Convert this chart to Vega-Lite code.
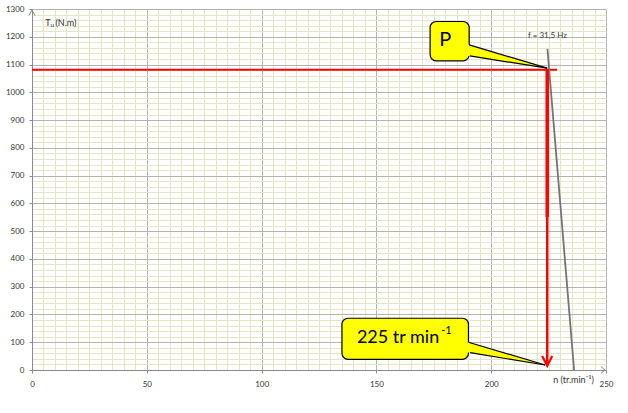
{
  "$schema": "https://vega.github.io/schema/vega-lite/v6.json",
  "width": 574,
  "height": 361,
  "autosize": "none",
  "padding": {"left": 32, "top": 9, "right": 22, "bottom": 43},
  "background": "white",
  "config": {
    "view": {"stroke": null},
    "font": "Lato",
    "axis": {
      "labelFont": "Lato",
      "labelFontSize": 8,
      "labelColor": "#333333",
      "domainColor": "#8a8a8a",
      "tickColor": "#8a8a8a",
      "tickSize": 3,
      "labelOverlap": false,
      "labelBound": false,
      "labelFlush": false,
      "format": "d",
      "title": null
    }
  },
  "datasets": {
    "redH": [{"n": 0, "t": 1081}, {"n": 228.7, "t": 1081}],
    "redV1": [{"n": 224.4, "t": 1081}, {"n": 224.4, "t": 551}],
    "redV2": [{"n": 224.4, "t": 551}, {"n": 224.4, "t": 16}],
    "arrowHead": [{"n": 222.2, "t": 50, "o": 1}, {"n": 224.4, "t": 15, "o": 2}, {"n": 226.6, "t": 50, "o": 3}],
    "grayLine": [{"n": 224.5, "t": 1156}, {"n": 236.1, "t": 0}],
    "axisArrows": [
      {"a": "y", "n": -1.3, "t": 1276, "o": 1}, {"a": "y", "n": 0, "t": 1297, "o": 2}, {"a": "y", "n": 1.3, "t": 1276, "o": 3},
      {"a": "x", "n": 247.8, "t": 12, "o": 1}, {"a": "x", "n": 249.6, "t": 0, "o": 2}, {"a": "x", "n": 247.8, "t": -12, "o": 3}
    ],
    "boxes": [
      {"c": "P", "x1": 173.4, "x2": 190.4, "y1": 1113.5, "y2": 1255},
      {"c": "225", "x1": 135, "x2": 190.1, "y1": 38.6, "y2": 186.3}
    ],
    "pointerFill": [
      {"c": "P", "n": 189.6, "top": 1173, "bot": 1132},
      {"c": "P", "n": 224.4, "top": 1087, "bot": 1087},
      {"c": "225", "n": 189.3, "top": 101.8, "bot": 64.3},
      {"c": "225", "n": 223.5, "top": 18, "bot": 18}
    ],
    "pointerEdges": [
      {"s": "Pt", "n": 190.4, "t": 1171}, {"s": "Pt", "n": 224.4, "t": 1087},
      {"s": "Pb", "n": 190.7, "t": 1131}, {"s": "Pb", "n": 224.4, "t": 1087},
      {"s": "Ct", "n": 190.1, "t": 99.8}, {"s": "Ct", "n": 223.5, "t": 18},
      {"s": "Cb", "n": 190.8, "t": 62.3}, {"s": "Cb", "n": 223.5, "t": 18}
    ],
    "texts": [
      {"k": "big", "label": "P", "n": 180, "t": 1189},
      {"k": "mid", "label": "225 tr min", "n": 141.5, "t": 97},
      {"k": "sup", "label": "-1", "n": 178.2, "t": 130},
      {"k": "small", "label": "f = 31,5 Hz", "n": 224.5, "t": 1204},
      {"k": "axt", "label": "T", "n": 5.8, "t": 1251},
      {"k": "sub", "label": "u", "n": 8.1, "t": 1241},
      {"k": "axt", "label": "(N.m)", "n": 10.2, "t": 1251},
      {"k": "axt", "label": "n (tr.min⁻¹)", "n": 227, "t": -36}
    ]
  },
  "layer": [
    {
      "data": {"name": "redH"},
      "mark": {"type": "line", "color": "#ff0000", "strokeWidth": 2, "clip": false},
      "encoding": {
        "x": {"field": "n", "type": "quantitative", "scale": {"domain": [0, 250], "nice": false, "zero": false},
          "axis": {
            "values": [0,5,10,15,20,25,30,35,40,45,50,55,60,65,70,75,80,85,90,95,100,105,110,115,120,125,130,135,140,145,150,155,160,165,170,175,180,185,190,195,200,205,210,215,220,225,230,235,240,245,250],
            "tickCount": 500,
            "grid": true,
            "gridColor": {"condition": {"test": "datum.value % 50 === 0", "value": "#b4b4aa"}, "value": "#e4e4c6"},
            "gridWidth": 1,
            "tickOpacity": {"condition": {"test": "datum.value % 50 === 0", "value": 1}, "value": 0},
            "labelExpr": "datum.value % 50 === 0 ? datum.label : ''",
            "labelPadding": 7
          }},
        "y": {"field": "t", "type": "quantitative", "scale": {"domain": [0, 1300], "nice": false, "zero": false},
          "axis": {
            "values": [0,20,40,60,80,100,120,140,160,180,200,220,240,260,280,300,320,340,360,380,400,420,440,460,480,500,520,540,560,580,600,620,640,660,680,700,720,740,760,780,800,820,840,860,880,900,920,940,960,980,1000,1020,1040,1060,1080,1100,1120,1140,1160,1180,1200,1220,1240,1260,1280,1300],
            "tickCount": 500,
            "grid": true,
            "gridColor": {"condition": {"test": "datum.value % 100 === 0", "value": "#b4b4aa"}, "value": "#e4e4c6"},
            "gridWidth": 1,
            "tickOpacity": {"condition": {"test": "datum.value % 100 === 0", "value": 1}, "value": 0},
            "labelExpr": "datum.value % 100 === 0 ? datum.label : ''",
            "labelPadding": 5
          }}
      }
    },
    {
      "data": {"name": "grayLine"},
      "mark": {"type": "line", "color": "#737378", "strokeWidth": 1.8},
      "encoding": {"x": {"field": "n", "type": "quantitative"}, "y": {"field": "t", "type": "quantitative"}}
    },
    {
      "data": {"name": "redV1"},
      "mark": {"type": "line", "color": "#ff0000", "strokeWidth": 3.5},
      "encoding": {"x": {"field": "n", "type": "quantitative"}, "y": {"field": "t", "type": "quantitative"}}
    },
    {
      "data": {"name": "redV2"},
      "mark": {"type": "line", "color": "#ff0000", "strokeWidth": 2.5},
      "encoding": {"x": {"field": "n", "type": "quantitative"}, "y": {"field": "t", "type": "quantitative"}}
    },
    {
      "data": {"name": "axisArrows"},
      "mark": {"type": "line", "color": "#8a8a8a", "strokeWidth": 1, "clip": false},
      "encoding": {"x": {"field": "n", "type": "quantitative"}, "y": {"field": "t", "type": "quantitative"}, "detail": {"field": "a"}, "order": {"field": "o"}}
    },
    {
      "data": {"name": "boxes"},
      "mark": {"type": "rect", "fill": "#ffff00", "stroke": "#000000", "strokeWidth": 1.2, "cornerRadius": 6},
      "encoding": {
        "x": {"field": "x1", "type": "quantitative"}, "x2": {"field": "x2"},
        "y": {"field": "y1", "type": "quantitative"}, "y2": {"field": "y2"}
      }
    },
    {
      "data": {"name": "pointerFill"},
      "mark": {"type": "area", "fill": "#ffff00", "orient": "vertical", "opacity": 1},
      "encoding": {
        "x": {"field": "n", "type": "quantitative"},
        "y": {"field": "top", "type": "quantitative"}, "y2": {"field": "bot"},
        "detail": {"field": "c"}
      }
    },
    {
      "data": {"name": "pointerEdges"},
      "mark": {"type": "line", "color": "#000000", "strokeWidth": 1.2},
      "encoding": {"x": {"field": "n", "type": "quantitative"}, "y": {"field": "t", "type": "quantitative"}, "detail": {"field": "s"}}
    },
    {
      "data": {"name": "arrowHead"},
      "mark": {"type": "line", "color": "#ff0000", "strokeWidth": 2.2},
      "encoding": {"x": {"field": "n", "type": "quantitative"}, "y": {"field": "t", "type": "quantitative"}, "order": {"field": "o"}}
    },
    {
      "data": {"name": "texts"},
      "transform": [{"filter": "datum.k === 'big'"}],
      "mark": {"type": "text", "fontSize": 20, "align": "center", "baseline": "middle", "color": "#000000", "font": "Lato"},
      "encoding": {"x": {"field": "n", "type": "quantitative"}, "y": {"field": "t", "type": "quantitative"}, "text": {"field": "label"}}
    },
    {
      "data": {"name": "texts"},
      "transform": [{"filter": "datum.k === 'mid'"}],
      "mark": {"type": "text", "fontSize": 18, "align": "left", "baseline": "alphabetic", "color": "#000000", "font": "Lato"},
      "encoding": {"x": {"field": "n", "type": "quantitative"}, "y": {"field": "t", "type": "quantitative"}, "text": {"field": "label"}}
    },
    {
      "data": {"name": "texts"},
      "transform": [{"filter": "datum.k === 'sup'"}],
      "mark": {"type": "text", "fontSize": 11, "align": "left", "baseline": "alphabetic", "color": "#000000", "font": "Lato"},
      "encoding": {"x": {"field": "n", "type": "quantitative"}, "y": {"field": "t", "type": "quantitative"}, "text": {"field": "label"}}
    },
    {
      "data": {"name": "texts"},
      "transform": [{"filter": "datum.k === 'small'"}],
      "mark": {"type": "text", "fontSize": 8, "align": "center", "baseline": "middle", "color": "#333333", "font": "Lato"},
      "encoding": {"x": {"field": "n", "type": "quantitative"}, "y": {"field": "t", "type": "quantitative"}, "text": {"field": "label"}}
    },
    {
      "data": {"name": "texts"},
      "transform": [{"filter": "datum.k === 'axt'"}],
      "mark": {"type": "text", "fontSize": 9, "align": "left", "baseline": "middle", "color": "#333333", "font": "Lato", "clip": false},
      "encoding": {"x": {"field": "n", "type": "quantitative"}, "y": {"field": "t", "type": "quantitative"}, "text": {"field": "label"}}
    },
    {
      "data": {"name": "texts"},
      "transform": [{"filter": "datum.k === 'sub'"}],
      "mark": {"type": "text", "fontSize": 6.5, "align": "left", "baseline": "middle", "color": "#333333", "font": "Lato"},
      "encoding": {"x": {"field": "n", "type": "quantitative"}, "y": {"field": "t", "type": "quantitative"}, "text": {"field": "label"}}
    }
  ]
}
